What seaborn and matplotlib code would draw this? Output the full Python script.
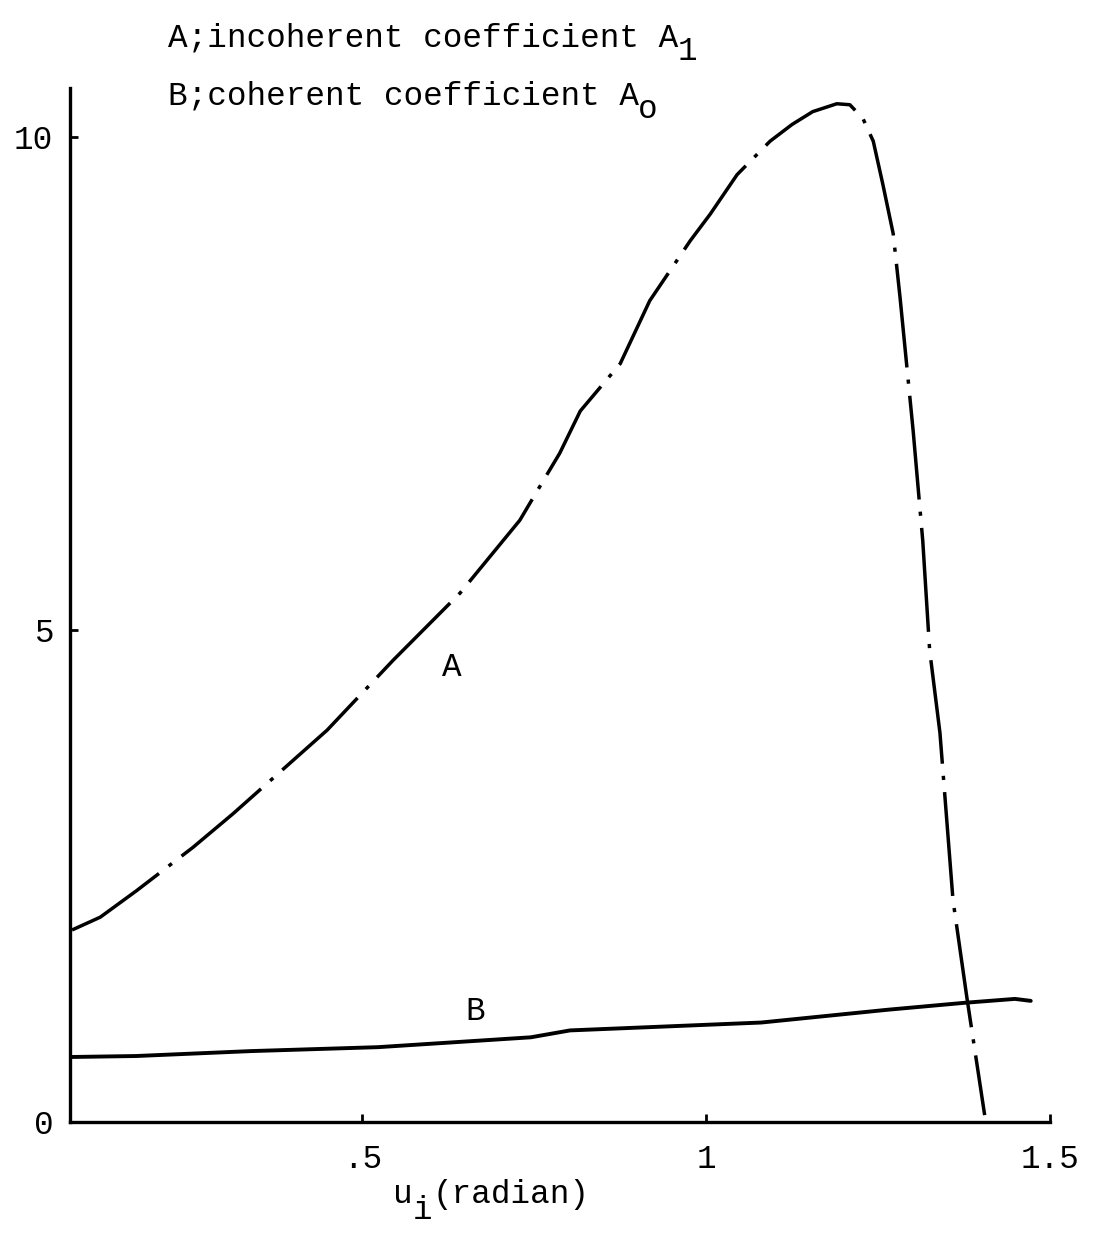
import matplotlib
matplotlib.use("Agg")
import matplotlib.pyplot as plt
import seaborn as sns

# ---- data ----
a_x = [0.078, 0.119, 0.172, 0.254, 0.312, 0.399, 0.449, 0.545, 0.642, 0.729,
       0.763, 0.787, 0.817, 0.875, 0.918, 0.977, 1.006, 1.045, 1.093, 1.125,
       1.155, 1.190, 1.209, 1.228, 1.243, 1.257, 1.272, 1.282, 1.292, 1.301,
       1.315, 1.325, 1.340, 1.359, 1.379, 1.405]
a_y = [1.95, 2.08, 2.35, 2.79, 3.13, 3.67, 3.98, 4.69, 5.37, 6.11,
       6.51, 6.79, 7.22, 7.70, 8.34, 8.95, 9.22, 9.62, 9.96, 10.13,
       10.26, 10.34, 10.33, 10.19, 9.96, 9.52, 9.02, 8.37, 7.66, 7.02,
       5.90, 4.79, 3.95, 2.25, 1.27, 0.07]

b_x = [0.075, 0.171, 0.338, 0.523, 0.745, 0.802, 1.080, 1.264, 1.375, 1.449, 1.472]
b_y = [0.66, 0.67, 0.72, 0.76, 0.86, 0.93, 1.01, 1.14, 1.21, 1.25, 1.23]

x_ticks = [0.5, 1.0, 1.5]
x_ticklabels = [".5", "1", "1.5"]
y_ticks = [0, 5, 10]
y_ticklabels = ["0", "5", "10"]

label_a = ("A", 0.630, 4.62)
label_b = ("B", 0.664, 1.12)

# ---- style ----
sns.set_style("ticks")
FONT = ["Liberation Mono", "DejaVu Sans Mono"]
plt.rcParams["font.family"] = FONT
plt.rcParams["text.color"] = "black"
FS = 23.5

W, H = 1099, 1239
fig = plt.figure(figsize=(W / 100, H / 100), dpi=100)
ax = fig.add_axes([70 / W, 1 - 1122 / H, 980 / W, 1034 / H])

sns.lineplot(x=a_x, y=a_y, ax=ax, color="black", linewidth=2.5,
             linestyle=(0, (30, 3.5, 1.2, 3.5)), sort=False)
sns.lineplot(x=b_x, y=b_y, ax=ax, color="black", linewidth=2.8, sort=False)

ax.set_xlim(0.075, 1.5)
ax.set_ylim(0, 10.5)

for s in ["top", "right"]:
    ax.spines[s].set_visible(False)
for s in ["left", "bottom"]:
    ax.spines[s].set_linewidth(2.4)
    ax.spines[s].set_color("black")

ax.set_xticks(x_ticks)
ax.set_xticklabels(x_ticklabels)
ax.set_yticks(y_ticks)
ax.set_yticklabels(y_ticklabels)
ax.tick_params(axis="both", direction="in", length=6, width=2, labelsize=FS,
               colors="black")
ax.tick_params(axis="x", pad=16)
ax.tick_params(axis="y", pad=12)

ax.text(label_a[1], label_a[2], label_a[0], fontsize=FS, ha="center", va="center")
ax.text(label_b[1], label_b[2], label_b[0], fontsize=FS, ha="center", va="center")

# typewriter-style text: subscripts sit half a line lower in their own column
CW = FS * 0.6 / 72 * 100  # monospace character advance in pixels


def tw(col_px, base_px, s):
    fig.text(col_px / W, 1 - base_px / H, s, fontsize=FS, ha="left",
             va="baseline")


tw(168, 47, "A;incoherent coefficient A")
tw(168 + 26 * CW, 60, "1")
tw(168, 105, "B;coherent coefficient A")
tw(168 + 24 * CW, 118, "o")
tw(393, 1203, "u")
tw(393 + 1 * CW, 1219, "i")
tw(393 + 2 * CW, 1203, "(radian)")

ax.set_xlabel("")
ax.set_ylabel("")

fig.savefig("out.png", dpi=100, facecolor="white")
